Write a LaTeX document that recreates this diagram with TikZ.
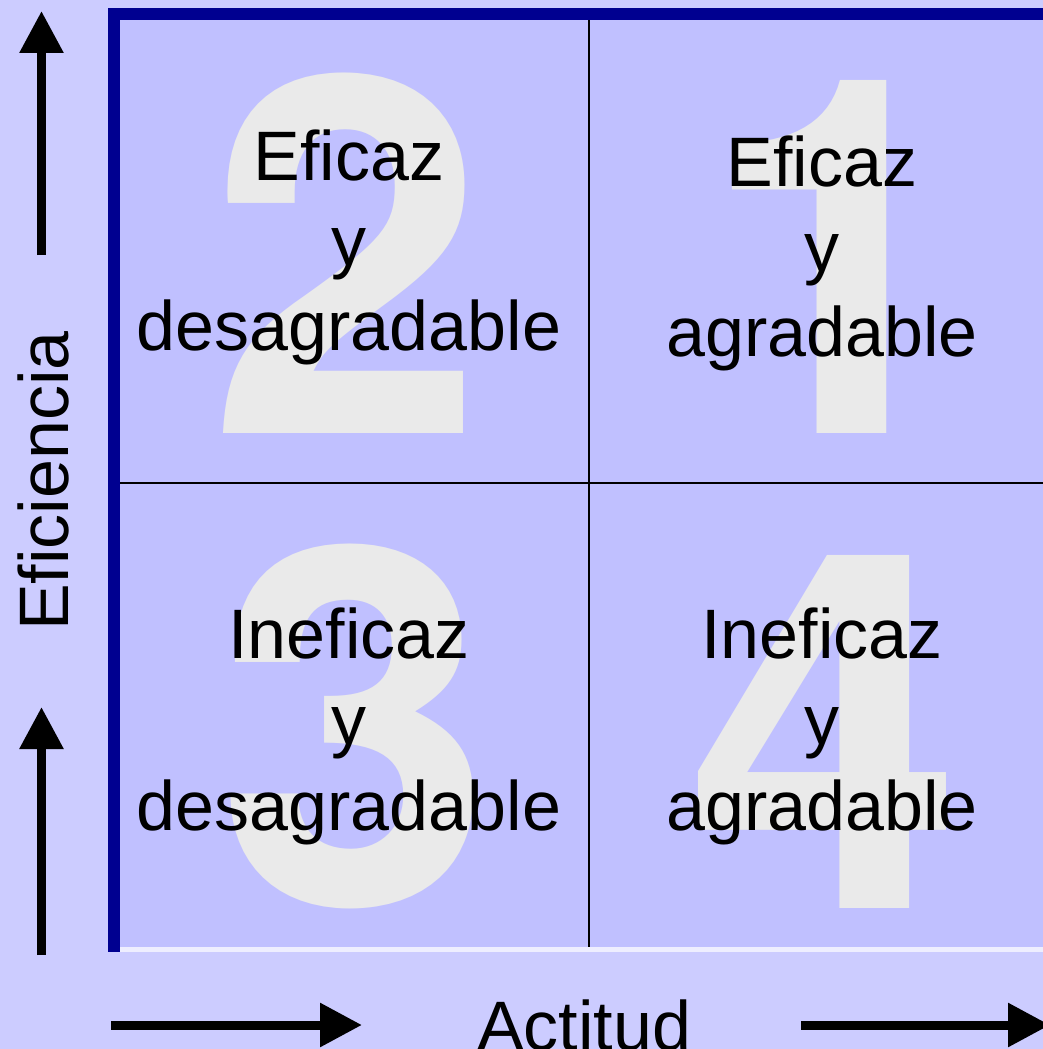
\documentclass[tikz,border=0pt]{standalone}
\usepackage{fontspec}
\setmainfont{Liberation Sans}[Ligatures=CommonOff]
\newfontfamily\digitfont{TeX Gyre Heros}
\usetikzlibrary{arrows.meta}
\definecolor{outerbg}{HTML}{CCCCFF}
\definecolor{innerbg}{HTML}{C0C0FF}
\definecolor{navyb}{HTML}{000090}
\definecolor{digitgray}{HTML}{EAEAEA}
\definecolor{edgewhite}{HTML}{EEEEFF}
\tikzset{
  lbl/.style={inner sep=0pt, anchor=base, text=black, font=\fontsize{70}{84}\selectfont},
  bigdigit/.style={inner sep=0pt, anchor=base, text=digitgray, font=\digitfont\bfseries\fontsize{498}{498}\selectfont},
  axarrow/.style={line width=9pt, -{Triangle[width=42pt,length=42pt]}},
  gridline/.style={line width=1.5pt, black}
}
\begin{document}
\begin{tikzpicture}[x=1pt,y=-1pt]
\clip (0,0) rectangle (1043,1049);
\fill[outerbg] (0,0) rectangle (1043,1049);
% inner square
\fill[innerbg] (120,20) rectangle (1043,947);
\fill[edgewhite] (120,947) rectangle (1043,952);
\fill[navyb] (108,8) rectangle (1043,20);
\fill[navyb] (108,8) rectangle (120,952);
% big digits
\node[bigdigit] (d2) at (347,433) {2};
\node[bigdigit] (d1) at (837,433) {1};
\node[bigdigit] (d3) at (355,904) {3};
\node[bigdigit] (d4) at (825,908) {4};
% grid lines
\coordinate (vt) at (589,20);
\coordinate (vb) at (589,947);
\coordinate (hl) at (120,483);
\coordinate (hr) at (1043,483);
\draw[gridline] (vt) -- (vb);
\draw[gridline] (hl) -- (hr);
% quadrant texts
\node[lbl] (q2a) at (349,180) {Eficaz};
\node[lbl] (q2b) at (349,265) {y};
\node[lbl] (q2c) at (349,350) {desagradable};
\node[lbl] (q1a) at (822,186) {Eficaz};
\node[lbl] (q1b) at (822,271) {y};
\node[lbl] (q1c) at (822,356) {agradable};
\node[lbl] (q3a) at (349,658) {Ineficaz};
\node[lbl] (q3b) at (349,744) {y};
\node[lbl] (q3c) at (349,830) {desagradable};
\node[lbl] (q4a) at (822,658) {Ineficaz};
\node[lbl] (q4b) at (822,744) {y};
\node[lbl] (q4c) at (822,830) {agradable};
% axis labels
\node[lbl, rotate=90] (ylab) at (68,481) {Eficiencia};
\node[lbl] (xlab) at (584,1050) {Actitud};
% arrows
\coordinate (a1s) at (41.5,255);
\coordinate (a1t) at (41.5,11);
\coordinate (a2s) at (41.5,955);
\coordinate (a2t) at (41.5,707);
\coordinate (a3s) at (111,1025);
\coordinate (a3t) at (362,1025);
\coordinate (a4s) at (801,1025);
\coordinate (a4t) at (1050,1025);
\draw[axarrow] (a1s) -- (a1t);
\draw[axarrow] (a2s) -- (a2t);
\draw[axarrow] (a3s) -- (a3t);
\draw[axarrow] (a4s) -- (a4t);
\end{tikzpicture}
\end{document}
